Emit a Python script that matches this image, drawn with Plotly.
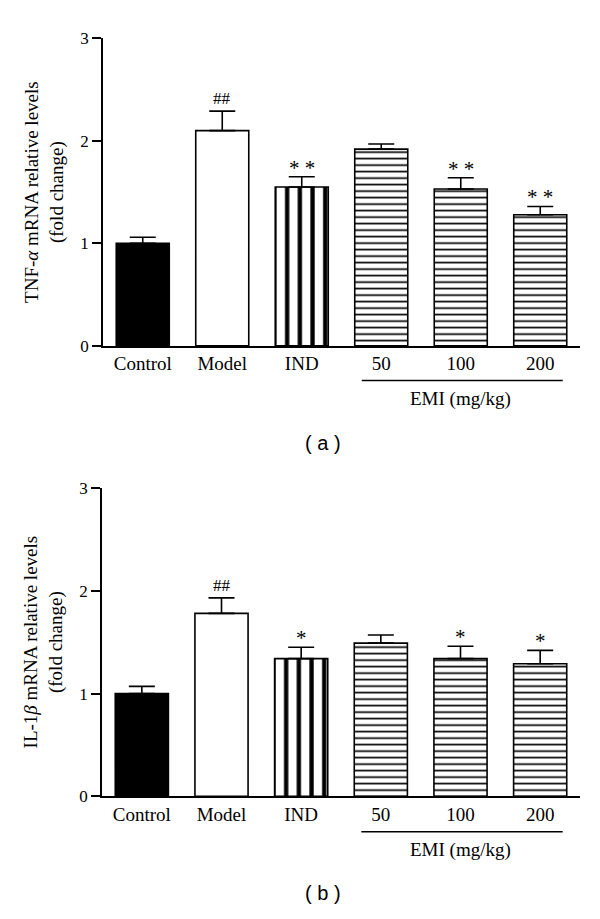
import plotly.graph_objects as go
from plotly.subplots import make_subplots

categories = ["Control", "Model", "IND", "50", "100", "200"]
tnf_mean = [1.00, 2.10, 1.55, 1.92, 1.53, 1.28]
tnf_err = [0.06, 0.19, 0.10, 0.05, 0.11, 0.08]
tnf_sig = ["", "##", "* *", "", "* *", "* *"]
il1b_mean = [1.00, 1.78, 1.34, 1.49, 1.34, 1.29]
il1b_err = [0.07, 0.15, 0.11, 0.08, 0.12, 0.13]
il1b_sig = ["", "##", "*", "", "*", "*"]
y_ticks = [0, 1, 2, 3]
group_label = "EMI (mg/kg)"
group_members = ["50", "100", "200"]
bar_style = ["solid", "open", "vstripe", "hstripe", "hstripe", "hstripe"]

W, H = 600, 919
SERIF = "Liberation Serif, Times New Roman, serif"
SANS = "Liberation Sans, Arial, sans-serif"

STYLES = {
    "solid": dict(color="black"),
    "open": dict(color="white"),
    "vstripe": dict(color="white", pattern=dict(shape="|", size=12.7, solidity=0.34,
                                                fgcolor="black", bgcolor="white",
                                                fgopacity=1, fillmode="overlay")),
    "hstripe": dict(color="white", pattern=dict(shape="-", size=6.5, solidity=0.26,
                                                fgcolor="black", bgcolor="white",
                                                fgopacity=1, fillmode="overlay")),
}


def px(v):
    return v / W


def py(v):
    return 1 - v / H


fig = make_subplots(rows=2, cols=1)

panels = [
    (tnf_mean, tnf_err, tnf_sig, "TNF-<i>α</i> mRNA relative levels<br>(fold change)",
     (103, 580), (30, 344), "( a )", 443, 379.3, 398.5),
    (il1b_mean, il1b_err, il1b_sig, "IL-1<i>β</i> mRNA relative levels<br>(fold change)",
     (102, 580), (489, 804), "( b )", 903, 840, 859),
]

for p, (mean, err, sig, ytitle, xd, yd, cap, cap_y, line_y, grp_y) in enumerate(panels):
    r = p + 1
    for sname, sdef in STYLES.items():
        idx = [k for k, s in enumerate(bar_style) if s == sname]
        marker = dict(line=dict(color="black", width=1.6))
        marker.update(sdef)
        fig.add_trace(
            go.Bar(
                x=[categories[k] for k in idx], y=[mean[k] for k in idx], width=0.667,
                marker=marker,
                error_y=dict(type="data", array=[err[k] for k in idx],
                             arrayminus=[0] * len(idx), symmetric=False,
                             color="black", thickness=1.6, width=13),
                showlegend=False, hoverinfo="skip",
            ),
            row=r, col=1,
        )
    xa = "xaxis" if r == 1 else "xaxis2"
    ya = "yaxis" if r == 1 else "yaxis2"
    fig.layout[xa].update(
        type="category", categoryorder="array", categoryarray=categories,
        domain=[px(xd[0]), px(xd[1])], range=[-0.5, 5.5],
        showline=True, linecolor="black", linewidth=1.5, ticks="",
        showgrid=False, zeroline=False, fixedrange=True,
        tickfont=dict(family=SERIF, size=19, color="black"),
    )
    fig.layout[ya].update(
        domain=[py(yd[1]), py(yd[0])], range=[0, 3],
        tickvals=y_ticks, ticks="outside", ticklen=9, tickwidth=1.5, tickcolor="black",
        showline=True, linecolor="black", linewidth=1.5,
        showgrid=False, zeroline=False, fixedrange=True,
        tickfont=dict(family=SERIF, size=17, color="black"),
        title=dict(text=ytitle, font=dict(family=SERIF, size=19, color="black"), standoff=12),
    )
    xr = "x" if r == 1 else "x2"
    yr = "y" if r == 1 else "y2"
    for k, (m, e, s) in enumerate(zip(mean, err, sig)):
        if s:
            star = "*" in s
            fig.add_annotation(x=k, y=m + e, xref=xr, yref=yr, text=s, showarrow=False,
                               yanchor="bottom", yshift=-5 if star else 1,
                               font=dict(family=SERIF, size=21 if star else 17, color="black"))
    i0 = categories.index(group_members[0])
    i1 = categories.index(group_members[-1])
    fig.add_shape(type="line", xref=xr, yref="paper",
                  x0=i0 - 0.245, x1=i1 + 0.283, y0=py(line_y), y1=py(line_y),
                  line=dict(color="black", width=1.5))
    fig.add_annotation(x=(i0 + i1) / 2, y=py(grp_y), xref=xr, yref="paper",
                       text=group_label, showarrow=False, yanchor="middle",
                       font=dict(family=SERIF, size=19, color="black"))
    fig.add_annotation(x=px(323), y=py(cap_y), xref="paper", yref="paper",
                       text=cap, showarrow=False, yanchor="middle",
                       font=dict(family=SANS, size=20, color="black"))

fig.update_layout(
    width=W, height=H, margin=dict(l=0, r=0, t=0, b=0),
    paper_bgcolor="white", plot_bgcolor="white", barmode="overlay",
)

fig.write_html("out.html", config={"displayModeBar": False},
               post_script="document.body.style.margin='0';")
